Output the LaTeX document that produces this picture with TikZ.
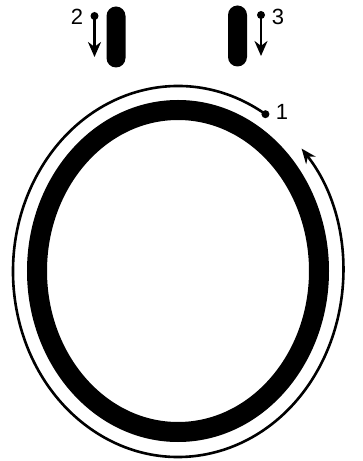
\documentclass[tikz,border=0pt]{standalone}
\usepackage{fontspec}
\setmainfont{Liberation Sans}
\usepackage{tikz}
\usetikzlibrary{arrows.meta, positioning, calc}

\begin{document}
\begin{tikzpicture}[
  x=1pt, y=1pt,
  pill/.style={rectangle, rounded corners=9.5pt, fill=black, draw=none,
               minimum width=19pt, minimum height=61pt, inner sep=0pt},
  ring/.style={line width=20pt, black},
  track/.style={line width=2.6pt, black, -{Stealth[length=15pt, width=12pt]}},
  push/.style={line width=2.6pt, black, -{Stealth[length=15pt, width=13pt]}},
  num/.style={font=\fontsize{22}{26}\selectfont, inner sep=0pt}
]
\useasboundingbox (0,0) rectangle (363,461);

%% Pads on top
\node[pill] (padL) at (116,424) {};
\node[pill] (padR) at (237.5,425) {};

%% Push arrows
\coordinate (twoS) at (94.5,445);
\coordinate (twoE) at (94.5,404);
\coordinate (threeS) at (261,446);
\coordinate (threeE) at (261,405);
\draw[push] (twoS) -- (twoE);
\draw[push] (threeS) -- (threeE);
\fill (twoS) circle (4pt);
\fill (threeS) circle (4pt);
\node[num] (lab2) at (77,444) {2};
\node[num] (lab3) at (278,444) {3};

%% Ring
\coordinate (ringC) at (178,190);
\draw[ring] (ringC) ellipse [x radius=141, y radius=161];

%% Track around the ring
\coordinate (trackC) at (178,189.5);
\draw[track] (trackC) ++(58:165 and 185.5) coordinate (p1)
  arc [start angle=58, end angle=401.5, x radius=165, y radius=185.5];
\fill (p1) circle (4pt);
\node[num] (lab1) at (282,349) {1};
\end{tikzpicture}
\end{document}
